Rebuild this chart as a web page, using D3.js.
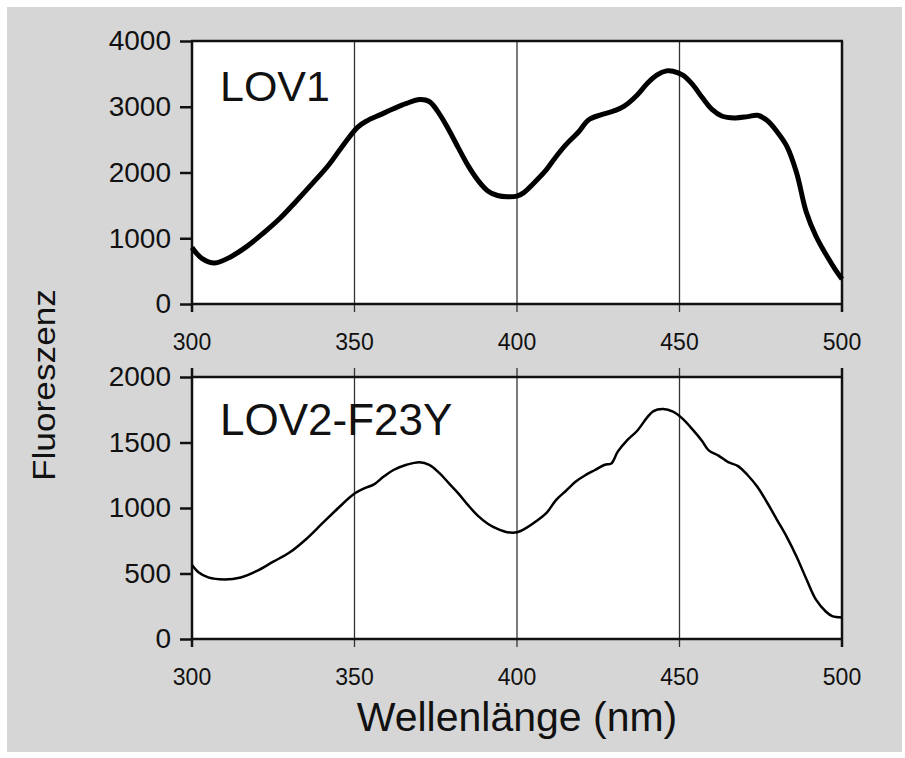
<!DOCTYPE html>
<html>
<head>
<meta charset="utf-8">
<script src="https://cdn.jsdelivr.net/npm/d3@7"></script>
<style>
  body { margin: 0; background: #fff; }
  svg text { font-family: "Liberation Sans", Arial, sans-serif; fill: #111; }
</style>
</head>
<body>
<svg class="chart"></svg>
<script>
// Data
var wavelengths = [300, 350, 400, 450, 500];
var lov1Ticks = [0, 1000, 2000, 3000, 4000];
var lov2Ticks = [0, 500, 1000, 1500, 2000];

var lov1Wl = [300, 303, 307, 312, 317, 322, 327, 332, 337, 342, 346, 351, 354, 358, 362, 366, 370, 373, 376, 379,
  382, 385, 388, 391, 394, 397, 400, 402, 405, 409, 412, 415, 419, 422, 426, 430, 433, 437, 440, 443,
  446, 448, 451, 454, 457, 460, 463, 467, 471, 474, 477, 480, 483, 486, 489, 492, 495, 498, 500];
var lov1Val = [860, 695, 625, 720, 880, 1080, 1300, 1560, 1830, 2110, 2380, 2690, 2790, 2880, 2970, 3050, 3110, 3080, 2900, 2650,
  2370, 2100, 1880, 1720, 1650, 1630, 1640, 1690, 1830, 2040, 2240, 2420, 2620, 2800, 2880, 2940, 3010, 3180, 3350, 3480,
  3545, 3540, 3480, 3340, 3140, 2960, 2860, 2830, 2850, 2870, 2790, 2620, 2400, 2000, 1400, 1030, 760, 520, 380];

var lov2Wl = [300, 302, 305, 310, 315, 320, 325, 330, 335, 340, 345, 350, 353, 356, 359, 362, 366, 370, 373, 376,
  379, 382, 385, 388, 391, 394, 397, 400, 403, 406, 409, 412, 415, 418, 421, 424, 427, 429, 431, 434,
  437, 440, 442, 445, 448, 451, 454, 457, 459, 462, 465, 468, 471, 474, 477, 480, 483, 486, 489, 492,
  495, 497, 500];
var lov2Val = [565, 510, 470, 455, 470, 520, 590, 660, 760, 880, 1000, 1110, 1150, 1180, 1240, 1290, 1330, 1350, 1330, 1270,
  1190, 1110, 1020, 940, 880, 840, 815, 815, 850, 900, 960, 1060, 1130, 1200, 1250, 1290, 1330, 1340, 1430, 1520,
  1590, 1690, 1740, 1755, 1735, 1680, 1600, 1510, 1440, 1400, 1350, 1320, 1250, 1160, 1040, 910, 780, 630, 460, 300,
  210, 175, 165];

var W = 905, H = 758;
var svg = d3.select(".chart").attr("width", W).attr("height", H);

// grey card behind everything
svg.append("rect").attr("x", 7).attr("y", 7).attr("width", 895).attr("height", 745).attr("fill", "#d6d6d6");

var x = d3.scaleLinear().domain([300, 500]).range([192, 842]);

// one panel = white box, gridlines, axes, curve, label
function panel(opts) {
  var y = d3.scaleLinear().domain(opts.domain).range([opts.bottom, opts.top]);
  var g = svg.append("g");

  g.append("rect")
    .attr("x", x(300)).attr("y", opts.top)
    .attr("width", x(500) - x(300)).attr("height", opts.bottom - opts.top)
    .attr("fill", "#fff");

  // vertical gridlines / x ticks (they poke out of the box)
  g.selectAll(".grid").data(wavelengths).enter().append("line")
    .attr("x1", d => x(d)).attr("x2", d => x(d))
    .attr("y1", opts.top - opts.tickUp).attr("y2", opts.bottom + 8)
    .attr("stroke", d => (d == 300 || d == 500) ? "#111" : "#333")
    .attr("stroke-width", d => (d == 300 || d == 500) ? 2.5 : 1.3);

  // top and bottom border
  [opts.top, opts.bottom].forEach(function(yy) {
    g.append("line").attr("x1", x(300) - 1).attr("x2", x(500) + 1)
      .attr("y1", yy).attr("y2", yy)
      .attr("stroke", "#111").attr("stroke-width", 2.5);
  });

  // y axis
  var yAxis = d3.axisLeft(y).tickValues(opts.ticks).tickFormat(d3.format("d"))
    .tickSize(12).tickSizeOuter(0).tickPadding(9);
  var ya = g.append("g").attr("transform", "translate(" + x(300) + ",0)").call(yAxis);
  ya.select(".domain").remove();
  ya.selectAll(".tick line").attr("stroke", "#111").attr("stroke-width", 2.5);
  ya.selectAll(".tick text").style("font-size", "28px").attr("fill", "#111")
    .attr("font-family", "Liberation Sans, Arial, sans-serif");

  // x tick labels
  g.selectAll(".xl").data(wavelengths).enter().append("text")
    .attr("x", d => x(d)).attr("y", opts.bottom + 46)
    .attr("text-anchor", "middle")
    .style("font-size", "23px")
    .text(d => d);

  var line = d3.line()
    .x((d, i) => x(opts.wl[i]))
    .y(d => y(d))
    .curve(d3.curveCatmullRom);
  g.append("path").datum(opts.val)
    .attr("d", line)
    .attr("fill", "none")
    .attr("stroke", "#000")
    .attr("stroke-width", opts.lineWidth)
    .attr("stroke-linejoin", "round");

  g.append("text")
    .attr("x", 220).attr("y", opts.labelY)
    .style("font-size", opts.labelSize + "px")
    .text(opts.label);
}

panel({ domain: [0, 4000], ticks: lov1Ticks, top: 41, bottom: 304, tickUp: 0,
  wl: lov1Wl, val: lov1Val, lineWidth: 5, label: "LOV1", labelY: 101, labelSize: 43 });
panel({ domain: [0, 2000], ticks: lov2Ticks, top: 377, bottom: 639, tickUp: 9,
  wl: lov2Wl, val: lov2Val, lineWidth: 2.5, label: "LOV2-F23Y", labelY: 435, labelSize: 44 });

// axis titles
svg.append("text")
  .attr("transform", "translate(55,385) rotate(-90)")
  .attr("text-anchor", "middle")
  .style("font-size", "31px")
  .attr("textLength", 192).attr("lengthAdjust", "spacingAndGlyphs")
  .text("Fluoreszenz");

svg.append("text")
  .attr("x", 517).attr("y", 731)
  .attr("text-anchor", "middle")
  .style("font-size", "41px")
  .text("Wellenlänge (nm)");
</script>
</body>
</html>
